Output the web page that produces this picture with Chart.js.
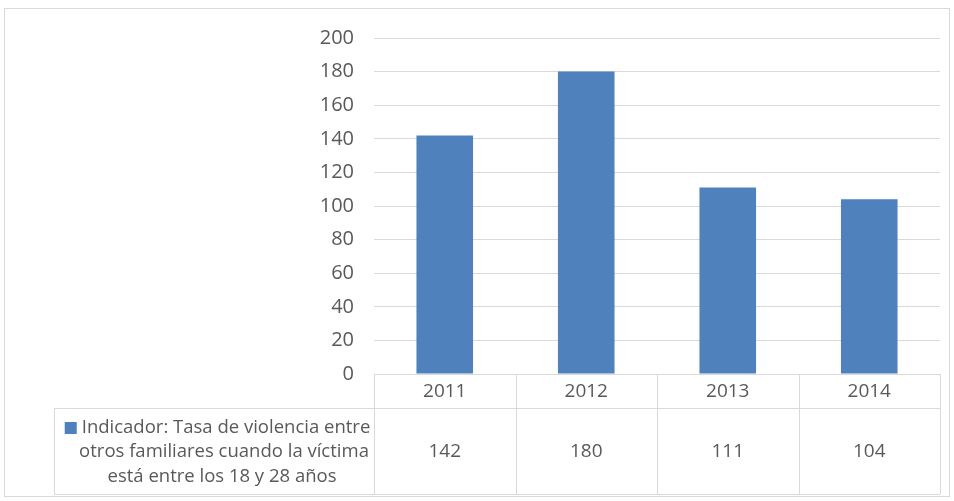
<!DOCTYPE html>
<html>
<head>
<meta charset="utf-8">
<script src="https://cdn.jsdelivr.net/npm/chart.js@4"></script>
<style>
  html, body { margin: 0; padding: 0; background: #fff; }
  #wrap { width: 954px; height: 501px; position: relative; }
</style>
</head>
<body>
<div id="wrap"><canvas id="tasaChart"></canvas></div>
<script>
const years = ['2011', '2012', '2013', '2014'];
const tasa = [142, 180, 111, 104];
const legendLines = [
  'Indicador: Tasa de violencia entre',
  'otros familiares cuando la víctima',
  'está entre los 18 y 28 años'
];

const FONT = '"Open Sans", sans-serif';
const TXT = '#595959';
const LINE = '#d9d9d9';
const BLUE = '#4f81bd';

// draws the frame and the data table under the plot
const tablePlugin = {
  id: 'dataTable',
  afterDraw(chart) {
    const ctx = chart.ctx;
    const area = chart.chartArea;
    const x = chart.scales.x;
    const colW = (area.right - area.left) / years.length;
    const top = area.bottom;
    const mid = top + 34;
    const bot = top + 120;
    const legLeft = 54;

    ctx.save();
    ctx.strokeStyle = LINE;
    ctx.lineWidth = 1;

    // outer frame
    ctx.strokeRect(4.5, 8.5, 945, 488);

    ctx.beginPath();
    ctx.moveTo(area.left, top + 0.5); ctx.lineTo(area.right, top + 0.5);
    ctx.moveTo(legLeft, mid + 0.5); ctx.lineTo(area.right, mid + 0.5);
    ctx.moveTo(legLeft, bot + 0.5); ctx.lineTo(area.right, bot + 0.5);
    ctx.moveTo(legLeft + 0.5, mid); ctx.lineTo(legLeft + 0.5, bot);
    for (let i = 0; i <= years.length; i++) {
      const px = Math.round(area.left + i * colW) + 0.5;
      ctx.moveTo(px, top); ctx.lineTo(px, bot);
    }
    ctx.stroke();

    ctx.fillStyle = TXT;
    ctx.font = '19px ' + FONT;
    ctx.textAlign = 'center';
    ctx.textBaseline = 'middle';
    years.forEach((y, i) => {
      const cx = x.getPixelForValue(i);
      ctx.fillText(y, cx, (top + mid) / 2 + 1);
      ctx.fillText(String(tasa[i]), cx, (mid + bot) / 2 + 1);
    });

    // legend key + wrapped series name
    ctx.font = '18.5px ' + FONT;
    const centers = [226, 224, 222];
    const lineYs = [mid + 20, mid + 44, mid + 69];
    legendLines.forEach((t, i) => {
      ctx.fillText(t, centers[i], lineYs[i]);
    });
    const w0 = ctx.measureText(legendLines[0]).width;
    ctx.fillStyle = BLUE;
    ctx.fillRect(centers[0] - w0 / 2 - 17, lineYs[0] - 6, 12, 12);
    ctx.restore();
  }
};

const ctx = document.getElementById('tasaChart').getContext('2d');
new Chart(ctx, {
  type: 'bar',
  data: {
    labels: years,
    datasets: [{
      label: legendLines.join(' '),
      data: tasa,
      backgroundColor: BLUE,
      barPercentage: 0.4,
      categoryPercentage: 1
    }]
  },
  options: {
    responsive: true,
    maintainAspectRatio: false,
    animation: false,
    layout: { padding: { top: 38, right: 14, left: 0, bottom: 0 } },
    plugins: {
      legend: { display: false },
      tooltip: { enabled: false }
    },
    scales: {
      x: {
        grid: { display: false },
        border: { display: false },
        ticks: { display: false },
        afterFit(scale) { scale.height = 127; }
      },
      y: {
        min: 0,
        max: 200,
        ticks: {
          stepSize: 20,
          color: TXT,
          padding: 20,
          font: { family: FONT, size: 20 }
        },
        grid: { color: LINE, drawTicks: false },
        border: { display: false },
        afterFit(scale) { scale.width = 374; }
      }
    }
  },
  plugins: [tablePlugin]
});
</script>
</body>
</html>
